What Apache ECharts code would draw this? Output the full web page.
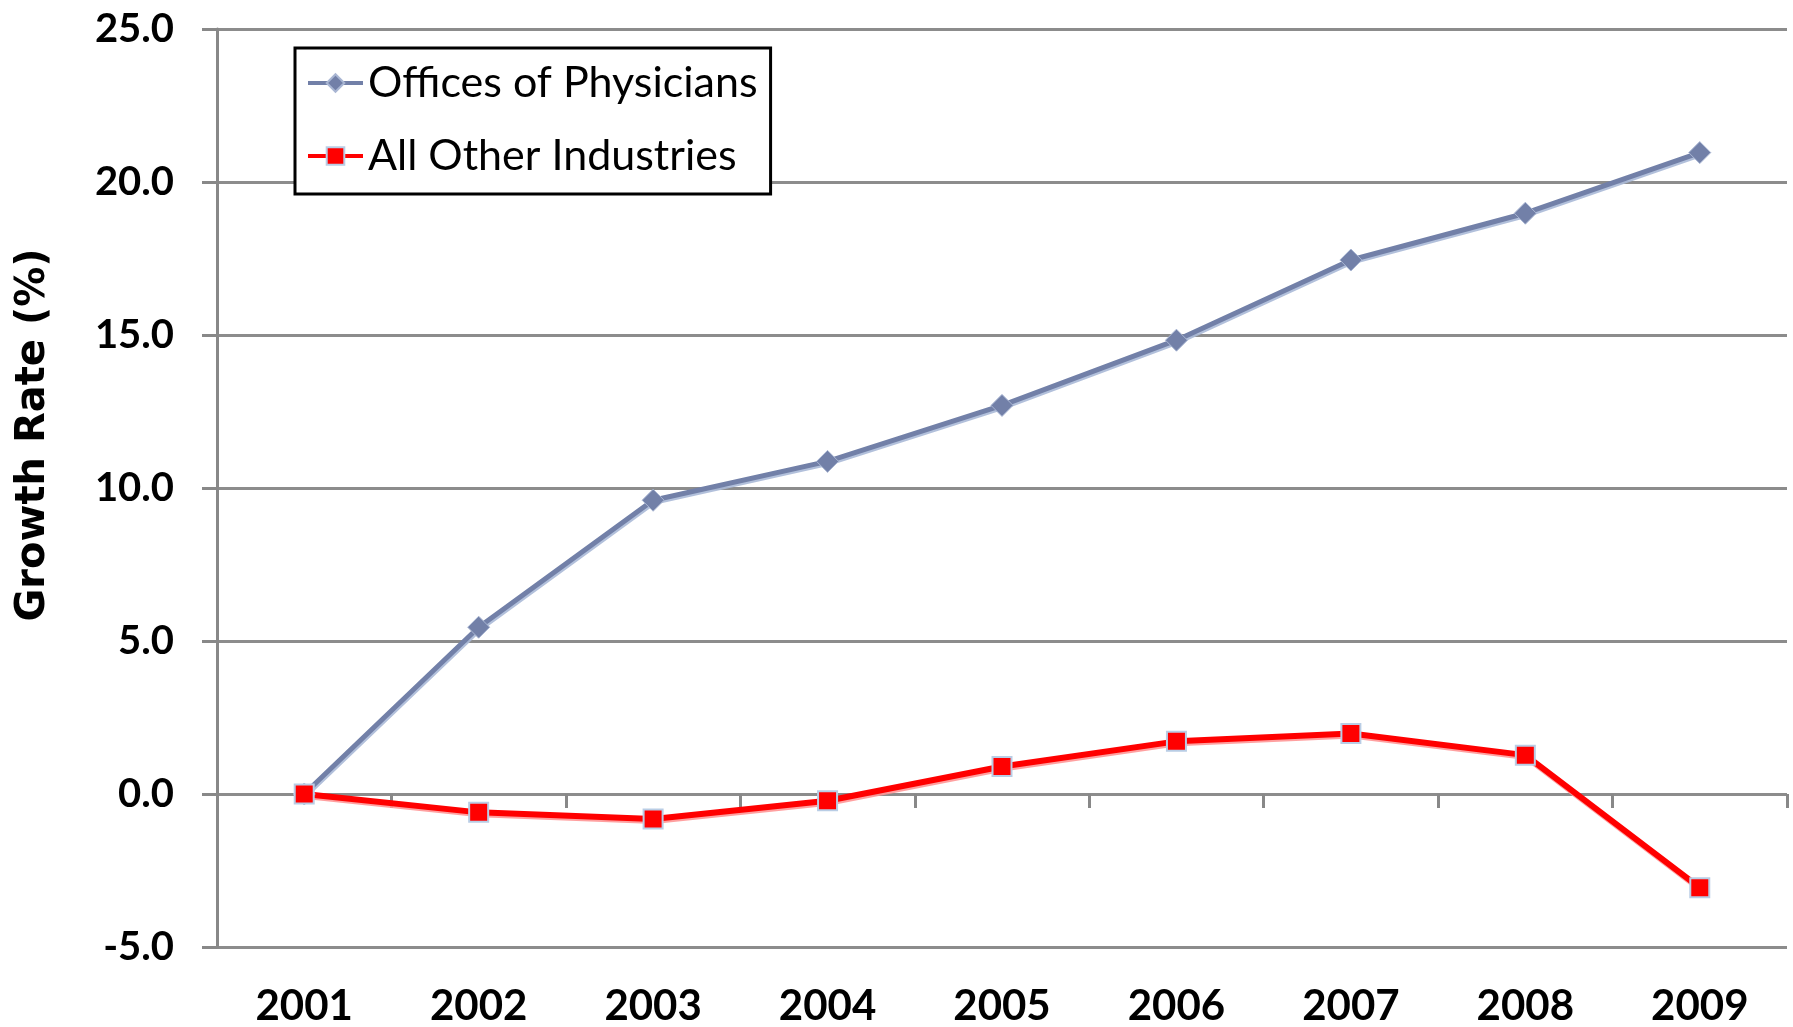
<!DOCTYPE html>
<html>
<head>
<meta charset="utf-8">
<script src="https://cdn.jsdelivr.net/npm/echarts@6/dist/echarts.min.js"></script>
<style>
html,body{margin:0;padding:0;background:#fff;}
#chart{width:1793px;height:1027px;}
</style>
</head>
<body>
<div id="chart"></div>
<script>
const years = ['2001','2002','2003','2004','2005','2006','2007','2008','2009'];
const physicians = [0.0, 5.45, 9.6, 10.87, 12.7, 14.83, 17.45, 18.98, 20.96];
const otherIndustries = [0.0, -0.6, -0.82, -0.22, 0.9, 1.72, 1.98, 1.27, -3.06];
const seriesNames = ['Offices of Physicians', 'All Other Industries'];
const yTitle = 'Growth Rate (%)';

const chart = echarts.init(document.getElementById('chart'));
const FONT = 'Lato';
chart.setOption({
  animation: false,
  backgroundColor: '#fff',
  grid: {left: 217, right: 6, top: 29, bottom: 80, containLabel: false},
  graphic: [{
    type: 'text', x: 34, y: 435, rotation: Math.PI / 2,
    style: {text: yTitle, fontFamily: 'DejaVu Sans', fontWeight: 'bold', fontSize: 40,
      fill: '#000', align: 'center', verticalAlign: 'middle'}
  }],
  legend: {
    orient: 'vertical',
    left: 295, top: 48,
    padding: [13, 13, 16, 11],
    borderColor: '#000', borderWidth: 3,
    backgroundColor: '#fff',
    itemWidth: 55, itemHeight: 22, itemGap: 29,
    lineStyle: {width: 4},
    textStyle: {fontFamily: FONT, fontSize: 43, color: '#000', lineHeight: 44},
    data: seriesNames
  },
  xAxis: [{
    type: 'category', data: years, boundaryGap: true,
    axisLine: {show: false, onZero: true},
    axisTick: {show: true, length: 14, lineStyle: {color: '#888', width: 3}},
    axisLabel: {show: false}
  }, {
    type: 'category', data: years, boundaryGap: true, position: 'bottom',
    axisLine: {show: false, onZero: false},
    axisTick: {show: false},
    axisLabel: {fontFamily: FONT, fontWeight: 'bold', fontSize: 42, color: '#000', margin: 38}
  }],
  yAxis: {
    type: 'value', min: -5, max: 25, interval: 5,
    axisLine: {show: true, lineStyle: {color: '#888', width: 3}},
    axisTick: {show: true, length: 15, lineStyle: {color: '#888', width: 3}},
    axisLabel: {fontFamily: FONT, fontWeight: 'bold', fontSize: 40, color: '#000', margin: 43,
      formatter: v => v.toFixed(1)},
    splitLine: {show: true, lineStyle: {color: '#8c8c8c', width: 3}}
  },
  series: [{
    name: seriesNames[0], type: 'line', data: physicians, xAxisIndex: 0,
    symbol: 'diamond', symbolSize: 22,
    itemStyle: {color: '#7280A8', borderColor: '#A9B6D3', borderWidth: 1},
    lineStyle: {color: '#7280A8', width: 5, shadowColor: 'rgba(170,185,215,0.9)', shadowOffsetX: 1, shadowOffsetY: 2}
  }, {
    name: seriesNames[1], type: 'line', data: otherIndustries, xAxisIndex: 0,
    symbol: 'rect', symbolSize: 19,
    itemStyle: {color: '#FF0000', borderColor: '#B9CDE5', borderWidth: 2},
    lineStyle: {color: '#FF0000', width: 6, shadowColor: 'rgba(255,150,150,0.9)', shadowOffsetX: 1, shadowOffsetY: 2}
  }]
});
</script>
</body>
</html>
